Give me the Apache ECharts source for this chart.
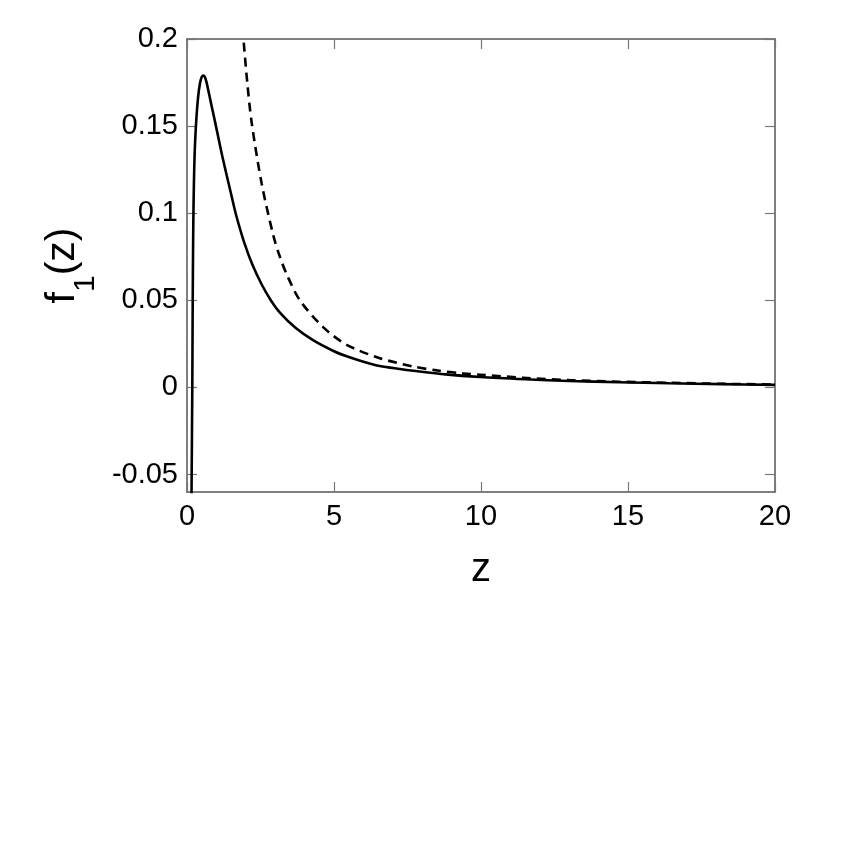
<!DOCTYPE html>
<html>
<head>
<meta charset="utf-8">
<title>f1(z)</title>
<script src="https://cdn.jsdelivr.net/npm/echarts@6/dist/echarts.min.js"></script>
<style>
  html, body { margin: 0; padding: 0; background: #fff; }
  #chart { width: 852px; height: 853px; }
</style>
</head>
<body>
<div id="chart"></div>
<script>
'use strict';
// f1(z) curve (solid) and its asymptote (dashed)
const zSolid = [0.15, 0.18, 0.19, 0.2, 0.215, 0.235, 0.26, 0.29, 0.33, 0.38, 0.44, 0.5, 0.56, 0.63, 0.7, 0.8, 0.96, 1.21, 1.5, 1.67, 1.95, 2.23, 2.55, 2.85, 3.16, 3.7, 4.3, 5.0, 5.43, 6.0, 6.56, 7.24, 7.7, 8.8, 9.97, 11.5, 13.0, 14.7, 16.4, 18.2, 20];
const fSolid = [-0.07, 0, 0.035, 0.065, 0.095, 0.117, 0.134, 0.146, 0.157, 0.167, 0.1745, 0.1782, 0.179, 0.1772, 0.1725, 0.1645, 0.152, 0.132, 0.111, 0.099, 0.083, 0.0703, 0.0588, 0.0501, 0.043, 0.0341, 0.027, 0.0208, 0.0179, 0.0148, 0.0123, 0.0106, 0.0096, 0.0075, 0.006, 0.0047, 0.0037, 0.003, 0.0024, 0.0019, 0.0015];
const zDashed = [1.85, 1.92, 2.05, 2.2, 2.54, 2.94, 3.16, 3.39, 3.84, 4.64, 5.43, 6.56, 7.7, 8.5, 9.4, 9.97, 11.5, 13.0, 14.7, 16.4, 18.2, 20];
const fDashed = [0.215, 0.2, 0.175, 0.152, 0.117, 0.087, 0.075, 0.065, 0.05, 0.0345, 0.0245, 0.0168, 0.012, 0.0098, 0.008, 0.0073, 0.0055, 0.0042, 0.0033, 0.0027, 0.0021, 0.0017];
const yTicks = [-0.05, 0, 0.05, 0.1, 0.15, 0.2];

const FONT = '"Liberation Sans", Arial, sans-serif';
const AXIS = '#555';
const TICK = '#777';

const pairs = (xs, ys) => xs.map((x, i) => [x, ys[i]]);

const chart = echarts.init(document.getElementById('chart'));

const tick = { show: true, inside: true, length: 10, lineStyle: { color: TICK, width: 1.2 } };
const line = { show: true, onZero: false, lineStyle: { color: AXIS, width: 1.5 } };

chart.setOption({
  backgroundColor: '#fff',
  animation: false,
  grid: { left: 187, right: 77, top: 39, bottom: 361 },
  xAxis: [
    {
      type: 'value', min: 0, max: 20, interval: 5,
      name: 'z', nameLocation: 'middle', nameGap: 58,
      nameTextStyle: { fontFamily: FONT, fontSize: 40, color: '#000' },
      axisLine: line, axisTick: tick, splitLine: { show: false },
      axisLabel: { color: '#000', fontFamily: FONT, fontSize: 29, margin: 10 }
    },
    {
      type: 'value', position: 'top', min: 0, max: 20, interval: 5,
      axisLine: line, axisTick: tick, splitLine: { show: false }, axisLabel: { show: false }
    }
  ],
  yAxis: [
    {
      type: 'value', min: -0.06, max: 0.2,
      name: 'f{sub|1}(z)', nameLocation: 'middle', nameGap: 82, nameRotate: 90,
      nameTextStyle: {
        fontFamily: FONT, fontSize: 41, color: '#000', lineHeight: 76,
        rich: { sub: { fontFamily: FONT, fontSize: 30, color: '#000', lineHeight: 30, verticalAlign: 'bottom' } }
      },
      axisLine: line, axisTick: Object.assign({ customValues: yTicks }, tick), splitLine: { show: false },
      axisLabel: { customValues: yTicks, color: '#000', fontFamily: FONT, fontSize: 29, margin: 9 }
    },
    {
      type: 'value', position: 'right', min: -0.06, max: 0.2,
      axisLine: line, axisTick: Object.assign({ customValues: yTicks }, tick), splitLine: { show: false },
      axisLabel: { show: false }
    }
  ],
  series: [
    {
      type: 'line', data: pairs(zSolid, fSolid), showSymbol: false, smooth: 0.3, clip: true,
      lineStyle: { color: '#000', width: 2.6 }
    },
    {
      type: 'line', data: pairs(zDashed, fDashed), showSymbol: false, smooth: 0.3, clip: true,
      lineStyle: { color: '#000', width: 2.6, type: [9, 6] }
    }
  ]
});
</script>
</body>
</html>
